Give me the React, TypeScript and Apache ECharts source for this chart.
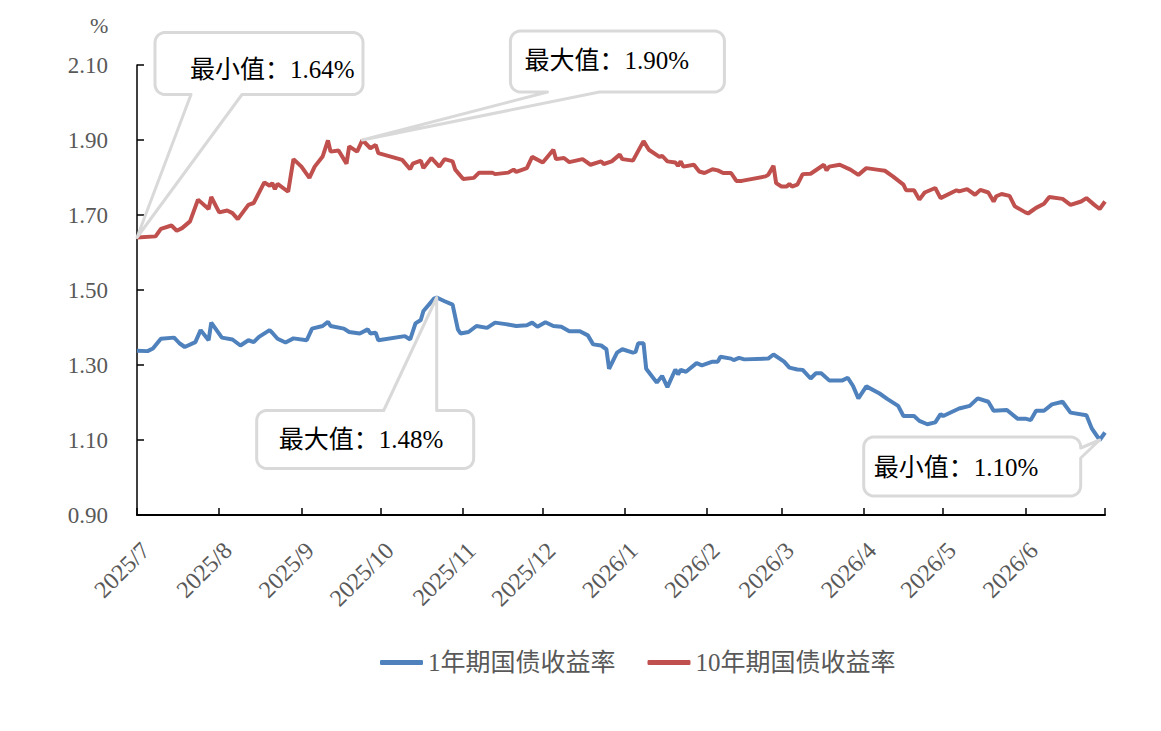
import React, { useEffect, useRef } from "react";
import * as echarts from "echarts";

const START_DATE = "2025-07-01";
const END_DATE = "2026-07-01";

const SERIES_NAMES = ["1年期国债收益率", "10年期国债收益率"];
const SERIES_COLORS = ["#4F81BD", "#C0504D"];
const Y_MIN = 0.9;
const Y_MAX = 2.1;
const Y_STEP = 0.2;
const Y_UNIT = "%";

const dates1Y = [
  "2025-07-01", "2025-07-05", "2025-07-07", "2025-07-10", "2025-07-15", "2025-07-17", "2025-07-19", "2025-07-23",
  "2025-07-25", "2025-07-28", "2025-07-29", "2025-08-02", "2025-08-06", "2025-08-09", "2025-08-12", "2025-08-14",
  "2025-08-16", "2025-08-20", "2025-08-21", "2025-08-23", "2025-08-26", "2025-08-29", "2025-09-03", "2025-09-05",
  "2025-09-09", "2025-09-11", "2025-09-12", "2025-09-17", "2025-09-19", "2025-09-23", "2025-09-26", "2025-09-27",
  "2025-09-29", "2025-09-30", "2025-10-10", "2025-10-12", "2025-10-14", "2025-10-16", "2025-10-17", "2025-10-21",
  "2025-10-22", "2025-10-25", "2025-10-28", "2025-10-30", "2025-10-31", "2025-11-03", "2025-11-06", "2025-11-10",
  "2025-11-13", "2025-11-17", "2025-11-21", "2025-11-25", "2025-11-27", "2025-11-29", "2025-12-02", "2025-12-05",
  "2025-12-08", "2025-12-11", "2025-12-15", "2025-12-18", "2025-12-20", "2025-12-23", "2025-12-25", "2025-12-26",
  "2025-12-29", "2025-12-31", "2026-01-04", "2026-01-05", "2026-01-06", "2026-01-08", "2026-01-09", "2026-01-13",
  "2026-01-15", "2026-01-17", "2026-01-20", "2026-01-21", "2026-01-22", "2026-01-24", "2026-01-28", "2026-01-30",
  "2026-02-03", "2026-02-05", "2026-02-06", "2026-02-10", "2026-02-11", "2026-02-13", "2026-02-15", "2026-02-24",
  "2026-02-26", "2026-03-02", "2026-03-04", "2026-03-07", "2026-03-09", "2026-03-12", "2026-03-14", "2026-03-16",
  "2026-03-19", "2026-03-24", "2026-03-26", "2026-03-28", "2026-03-30", "2026-04-02", "2026-04-07", "2026-04-10",
  "2026-04-14", "2026-04-16", "2026-04-20", "2026-04-22", "2026-04-25", "2026-04-28", "2026-04-30", "2026-05-01",
  "2026-05-07", "2026-05-11", "2026-05-14", "2026-05-18", "2026-05-20", "2026-05-25", "2026-05-29", "2026-06-01",
  "2026-06-03", "2026-06-05", "2026-06-08", "2026-06-11", "2026-06-15", "2026-06-18", "2026-06-24", "2026-06-26",
  "2026-06-29", "2026-07-01",
];
const values1Y = [
  1.338, 1.337, 1.344, 1.370, 1.373, 1.358, 1.348, 1.361,
  1.393, 1.366, 1.413, 1.373, 1.368, 1.352, 1.366, 1.361,
  1.375, 1.393, 1.386, 1.370, 1.360, 1.371, 1.366, 1.397,
  1.404, 1.415, 1.404, 1.397, 1.388, 1.384, 1.395, 1.384,
  1.386, 1.366, 1.377, 1.368, 1.411, 1.420, 1.444, 1.477,
  1.480, 1.470, 1.461, 1.395, 1.384, 1.388, 1.404, 1.399,
  1.413, 1.409, 1.404, 1.406, 1.413, 1.402, 1.414, 1.404,
  1.402, 1.390, 1.390, 1.379, 1.355, 1.352, 1.342, 1.290,
  1.333, 1.342, 1.333, 1.335, 1.358, 1.358, 1.290, 1.253,
  1.271, 1.241, 1.288, 1.275, 1.287, 1.282, 1.305, 1.299,
  1.309, 1.309, 1.322, 1.317, 1.313, 1.319, 1.315, 1.317,
  1.328, 1.309, 1.293, 1.288, 1.287, 1.264, 1.278, 1.278,
  1.259, 1.259, 1.266, 1.244, 1.211, 1.243, 1.224, 1.209,
  1.191, 1.164, 1.164, 1.151, 1.142, 1.147, 1.169, 1.164,
  1.184, 1.191, 1.211, 1.202, 1.178, 1.180, 1.157, 1.157,
  1.153, 1.178, 1.178, 1.195, 1.202, 1.173, 1.166, 1.131,
  1.100, 1.120,
];

const dates10Y = [
  "2025-07-01", "2025-07-08", "2025-07-10", "2025-07-14", "2025-07-16", "2025-07-18", "2025-07-21", "2025-07-24",
  "2025-07-28", "2025-07-29", "2025-08-01", "2025-08-04", "2025-08-06", "2025-08-08", "2025-08-12", "2025-08-14",
  "2025-08-18", "2025-08-20", "2025-08-21", "2025-08-22", "2025-08-23", "2025-08-27", "2025-08-29", "2025-09-01",
  "2025-09-04", "2025-09-06", "2025-09-09", "2025-09-11", "2025-09-12", "2025-09-15", "2025-09-18", "2025-09-19",
  "2025-09-22", "2025-09-24", "2025-09-27", "2025-09-29", "2025-09-30", "2025-10-09", "2025-10-12", "2025-10-13",
  "2025-10-16", "2025-10-17", "2025-10-20", "2025-10-23", "2025-10-25", "2025-10-28", "2025-10-29", "2025-11-01",
  "2025-11-05", "2025-11-07", "2025-11-12", "2025-11-13", "2025-11-18", "2025-11-20", "2025-11-21", "2025-11-25",
  "2025-11-27", "2025-12-01", "2025-12-05", "2025-12-06", "2025-12-09", "2025-12-11", "2025-12-16", "2025-12-19",
  "2025-12-23", "2025-12-24", "2025-12-27", "2025-12-30", "2025-12-31", "2026-01-04", "2026-01-08", "2026-01-10",
  "2026-01-14", "2026-01-15", "2026-01-17", "2026-01-20", "2026-01-21", "2026-01-22", "2026-01-23", "2026-01-27",
  "2026-01-29", "2026-01-31", "2026-02-03", "2026-02-05", "2026-02-07", "2026-02-10", "2026-02-12", "2026-02-14",
  "2026-02-23", "2026-02-24", "2026-02-26", "2026-02-27", "2026-03-01", "2026-03-03", "2026-03-04", "2026-03-05",
  "2026-03-07", "2026-03-09", "2026-03-12", "2026-03-17", "2026-03-18", "2026-03-19", "2026-03-23", "2026-03-27",
  "2026-03-30", "2026-04-02", "2026-04-06", "2026-04-09", "2026-04-12", "2026-04-16", "2026-04-17", "2026-04-20",
  "2026-04-22", "2026-04-24", "2026-04-28", "2026-04-30", "2026-05-06", "2026-05-07", "2026-05-10", "2026-05-13",
  "2026-05-15", "2026-05-18", "2026-05-20", "2026-05-21", "2026-05-23", "2026-05-26", "2026-05-28", "2026-06-01",
  "2026-06-02", "2026-06-04", "2026-06-05", "2026-06-08", "2026-06-10", "2026-06-15", "2026-06-18", "2026-06-22",
  "2026-06-24", "2026-06-27", "2026-06-29", "2026-07-01",
];
const values10Y = [
  1.640, 1.643, 1.663, 1.672, 1.658, 1.665, 1.683, 1.741,
  1.716, 1.748, 1.707, 1.712, 1.705, 1.689, 1.727, 1.732,
  1.787, 1.778, 1.785, 1.769, 1.783, 1.762, 1.849, 1.829,
  1.799, 1.829, 1.856, 1.899, 1.869, 1.872, 1.837, 1.883,
  1.869, 1.900, 1.878, 1.887, 1.865, 1.847, 1.822, 1.837,
  1.845, 1.825, 1.852, 1.829, 1.849, 1.843, 1.821, 1.796,
  1.799, 1.813, 1.813, 1.809, 1.813, 1.821, 1.815, 1.825,
  1.855, 1.840, 1.874, 1.849, 1.852, 1.841, 1.849, 1.834,
  1.843, 1.836, 1.843, 1.861, 1.849, 1.845, 1.897, 1.874,
  1.855, 1.858, 1.843, 1.840, 1.831, 1.843, 1.829, 1.834,
  1.816, 1.812, 1.822, 1.819, 1.812, 1.812, 1.791, 1.791,
  1.803, 1.807, 1.831, 1.785, 1.776, 1.776, 1.783, 1.776,
  1.781, 1.809, 1.810, 1.834, 1.819, 1.829, 1.834, 1.821,
  1.807, 1.825, 1.821, 1.818, 1.803, 1.781, 1.766, 1.766,
  1.741, 1.760, 1.772, 1.745, 1.766, 1.763, 1.769, 1.754,
  1.767, 1.760, 1.736, 1.750, 1.756, 1.751, 1.723, 1.707,
  1.704, 1.714, 1.719, 1.730, 1.748, 1.743, 1.727, 1.736,
  1.745, 1.727, 1.716, 1.736,
];

const FONT = "'Liberation Serif', 'Noto Sans CJK SC', serif";

function buildDays(start: string, end: string): string[] {
  const out: string[] = [];
  const d = new Date(start + "T00:00:00Z");
  const e = new Date(end + "T00:00:00Z");
  while (d.getTime() <= e.getTime()) {
    out.push(d.toISOString().slice(0, 10));
    d.setUTCDate(d.getUTCDate() + 1);
  }
  return out;
}

function arcPts(cx: number, cy: number, r: number, a0: number, a1: number) {
  const pts: number[][] = [];
  const n = 6;
  for (let i = 0; i <= n; i++) {
    const t = ((a0 + (a1 - a0) * (i / n)) * Math.PI) / 180;
    pts.push([cx + r * Math.cos(t), cy + r * Math.sin(t)]);
  }
  return pts;
}

function calloutPoints(
  bx: number, by: number, bw: number, bh: number, r: number,
  edge: "top" | "bottom" | "right", a: number, b: number, tip: number[]
) {
  const pts: number[][] = [];
  pts.push([bx + r, by]);
  if (edge === "top") { pts.push([a, by], tip, [b, by]); }
  pts.push(...arcPts(bx + bw - r, by + r, r, -90, 0));
  if (edge === "right") { pts.push([bx + bw, a], tip, [bx + bw, b]); }
  pts.push(...arcPts(bx + bw - r, by + bh - r, r, 0, 90));
  if (edge === "bottom") { pts.push([b, by + bh], tip, [a, by + bh]); }
  pts.push(...arcPts(bx + r, by + bh - r, r, 90, 180));
  pts.push(...arcPts(bx + r, by + r, r, 180, 270));
  return pts;
}

export default function App() {
  const ref = useRef<HTMLDivElement>(null);

  useEffect(() => {
    const el = ref.current;
    if (!el) return;
    const chart = echarts.init(el, null, { renderer: "svg" });
    const days = buildDays(START_DATE, END_DATE);
    const lastIdx = days.length - 1;
    const m1 = new Map<string, number>(dates1Y.map((d, i) => [d, values1Y[i]]));
    const m10 = new Map<string, number>(dates10Y.map((d, i) => [d, values10Y[i]]));
    const s1 = days.map((d) => (m1.has(d) ? m1.get(d)! : null));
    const s10 = days.map((d) => (m10.has(d) ? m10.get(d)! : null));

    const isMonthStart = (v: string) => v.slice(8, 10) === "01";

    chart.setOption({
      animation: false,
      title: {
        text: Y_UNIT,
        left: 85,
        top: 9,
        textStyle: { fontFamily: FONT, fontSize: 22, fontWeight: "normal", color: "#595959" },
      },
      grid: { left: 137, right: 56, top: 65, bottom: 216, containLabel: false },
      legend: {
        data: SERIES_NAMES,
        left: 375,
        top: 645,
        icon: "roundRect",
        itemWidth: 43,
        itemHeight: 5,
        itemGap: 32,
        textStyle: { fontFamily: FONT, fontSize: 25, color: "#595959" },
      },
      xAxis: {
        type: "category",
        data: days,
        boundaryGap: false,
        axisLine: { show: true, lineStyle: { color: "#000", width: 2 } },
        axisTick: {
          show: true,
          inside: true,
          length: 7,
          interval: (idx: number, v: string) => isMonthStart(v) || idx === lastIdx,
          lineStyle: { color: "#000", width: 1.5 },
        },
        axisLabel: {
          interval: (idx: number, v: string) => isMonthStart(v) && idx !== lastIdx,
          rotate: 45,
          margin: 23,
          align: "right",
          verticalAlign: "top",
          color: "#595959",
          fontFamily: FONT,
          fontSize: 24,
          formatter: (v: string) => `${v.slice(0, 4)}/${parseInt(v.slice(5, 7), 10)}`,
        },
        splitLine: { show: false },
      },
      yAxis: {
        type: "value",
        min: Y_MIN,
        max: Y_MAX,
        interval: Y_STEP,
        axisLine: { show: true, lineStyle: { color: "#000", width: 1.5 } },
        axisTick: { show: true, inside: true, length: 7, lineStyle: { color: "#000", width: 1.5 } },
        axisLabel: {
          margin: 29,
          color: "#595959",
          fontFamily: FONT,
          fontSize: 23,
          formatter: (v: number) => v.toFixed(2),
        },
        splitLine: { show: false },
      },
      series: [
        {
          name: SERIES_NAMES[0],
          type: "line",
          data: s1,
          connectNulls: true,
          showSymbol: false,
          symbol: "none",
          color: SERIES_COLORS[0],
          lineStyle: { width: 4, color: SERIES_COLORS[0] },
        },
        {
          name: SERIES_NAMES[1],
          type: "line",
          data: s10,
          connectNulls: true,
          showSymbol: false,
          symbol: "none",
          color: SERIES_COLORS[1],
          lineStyle: { width: 4, color: SERIES_COLORS[1] },
        },
      ],
    });

    const extreme = (dates: string[], vals: number[], kind: "min" | "max") => {
      let k = 0;
      for (let i = 1; i < vals.length; i++) {
        if (kind === "min" ? vals[i] < vals[k] : vals[i] > vals[k]) k = i;
      }
      return { date: dates[k], value: vals[k] };
    };

    const callouts = [
      { pt: extreme(dates10Y, values10Y, "min"), label: "最小值", box: [18, -205, 208, 62], edge: "bottom", ab: [54, 105], text: [35, 37] },
      { pt: extreme(dates10Y, values10Y, "max"), label: "最大值", box: [148, -109, 214, 61], edge: "bottom", ab: [185, 237], text: [14, 29] },
      { pt: extreme(dates1Y, values1Y, "max"), label: "最大值", box: [-180, 113, 217, 58], edge: "top", ab: [-53, 0], text: [22, 29] },
      { pt: extreme(dates1Y, values1Y, "min"), label: "最小值", box: [-236, -3, 217, 59], edge: "right", ab: [8, 18], text: [10, 30] },
    ];

    const graphics: any[] = [];
    callouts.forEach((c) => {
      const p = chart.convertToPixel({ xAxisIndex: 0, yAxisIndex: 0 }, [c.pt.date, c.pt.value]) as number[];
      const [tx, ty] = p;
      const bx = tx + c.box[0];
      const by = ty + c.box[1];
      const bw = c.box[2];
      const bh = c.box[3];
      let a: number, b: number;
      if (c.edge === "right") { a = ty + c.ab[0]; b = ty + c.ab[1]; }
      else { a = tx + c.ab[0]; b = tx + c.ab[1]; }
      graphics.push({
        type: "polygon",
        z: 100,
        shape: { points: calloutPoints(bx, by, bw, bh, 10, c.edge as any, a, b, [tx, ty]) },
        style: { fill: "#ffffff", stroke: "#d9d9d9", lineWidth: 3, lineJoin: "round" },
      });
      graphics.push({
        type: "text",
        z: 101,
        x: bx + c.text[0],
        y: by + c.text[1],
        style: {
          text: `${c.label}：${c.pt.value.toFixed(2)}%`,
          fill: "#000000",
          fontFamily: FONT,
          fontSize: 25,
          textAlign: "left",
          textVerticalAlign: "middle",
          align: "left",
          verticalAlign: "middle",
        },
      });
    });
    chart.setOption({ graphic: graphics });

    return () => chart.dispose();
  }, []);

  return (
    <div
      ref={ref}
      style={{ position: "fixed", left: 0, top: 0, width: 1161, height: 731, background: "#fff" }}
    />
  );
}
